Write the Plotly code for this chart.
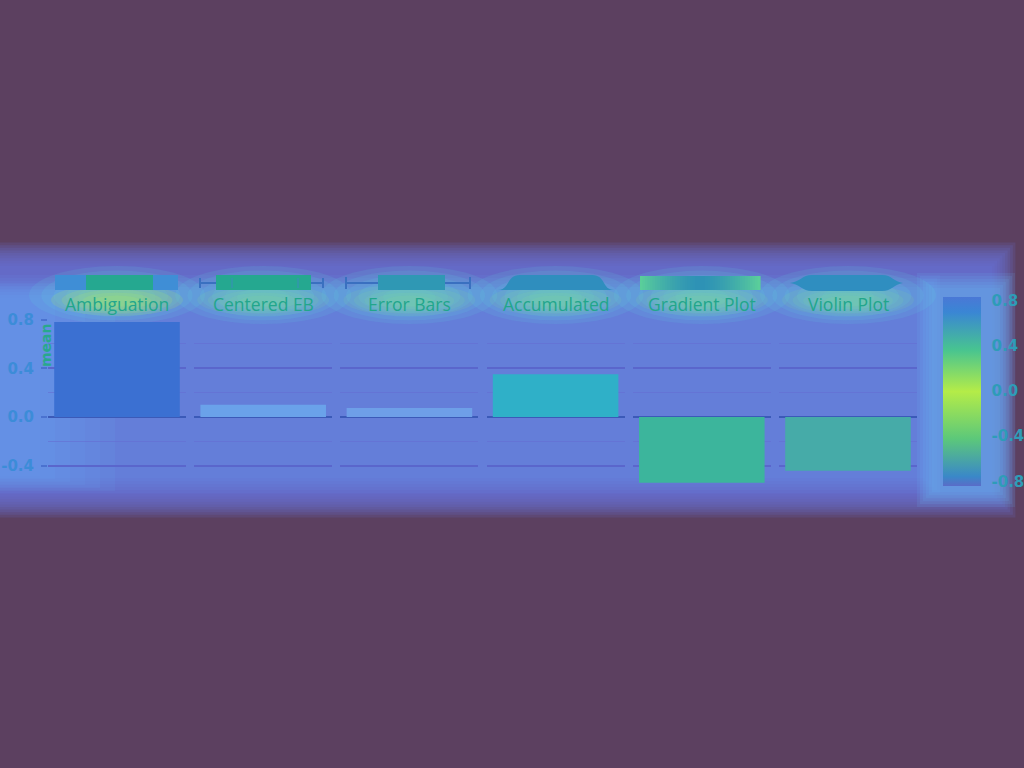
import plotly.graph_objects as go

# ---- data ----
methods = ["Ambiguation", "Centered EB", "Error Bars", "Accumulated", "Gradient Plot", "Violin Plot"]
means = [0.78, 0.10, 0.075, 0.35, -0.54, -0.44]
bar_colors = ["#3b70d2", "#6aa2ea", "#6e9fe8", "#2fb0c8", "#3cb59c", "#46aba8"]
y_ticks = [0.8, 0.4, 0.0, -0.4]
cbar_ticks = [0.8, 0.4, 0.0, -0.4, -0.8]
cbar_min, cbar_max = -0.84, 0.83

W, H = 1024, 768
def px(x):
    return x / W
def py(y):
    return 1 - y / H

fig = go.Figure()

# ---- background glow (decorative) ----
bg_shapes = []
n_layers = 10
for j in range(n_layers):
    d = (n_layers - 1 - j) * 2.6
    bg_shapes.append(dict(type="rect", xref="paper", yref="paper", x0=px(-20), x1=px(992 + d),
                          y0=py(494 + d), y1=py(266 - d),
                          fillcolor="rgba(108,120,226,0.16)", line_width=0, layer="below"))
# light-blue halo around chart content
for j in range(6):
    d = (5 - j) * 3
    bg_shapes.append(dict(type="rect", xref="paper", yref="paper", x0=px(-20), x1=px(40 + 5 * d),
                          y0=py(476 + d), y1=py(298 - d), fillcolor="rgba(100,170,250,0.10)",
                          line_width=0, layer="below"))
    bg_shapes.append(dict(type="rect", xref="paper", yref="paper", x0=px(-20), x1=px(925 + d),
                          y0=py(478 + d), y1=py(290 - d), fillcolor="rgba(112,165,248,0.07)",
                          line_width=0, layer="below"))
    bg_shapes.append(dict(type="rect", xref="paper", yref="paper", x0=px(932 - d), x1=px(1000 + d),
                          y0=py(492 + d), y1=py(288 - d), fillcolor="rgba(110,190,250,0.12)",
                          line_width=0, layer="below"))

left0, pitch, pw = 48, 146.2, 138
top_px, bot_px = 319.5, 486.5
for i, name in enumerate(methods):
    cx = left0 + pitch * i + pw / 2
    # soft title halos
    for j in range(6):
        s = 1 - j * 0.14
        bg_shapes.append(dict(type="circle", xref="paper", yref="paper",
                              x0=px(cx - 88 * s), x1=px(cx + 88 * s),
                              y0=py(298 + 26 * s), y1=py(298 - 32 * s),
                              fillcolor="rgba(95,215,225,0.13)", line_width=0, layer="below"))
    for j in range(5):
        s = 1 - j * 0.16
        bg_shapes.append(dict(type="circle", xref="paper", yref="paper",
                              x0=px(cx - 66 * s), x1=px(cx + 66 * s),
                              y0=py(302 + 14 * s), y1=py(302 - 18 * s),
                              fillcolor="rgba(175,238,95,0.16)" if i == 0 else "rgba(140,232,135,0.11)",
                              line_width=0, layer="below"))

# ---- bars ----
layout_axes = {}
for i, (name, val, col) in enumerate(zip(methods, means, bar_colors)):
    k = "" if i == 0 else str(i + 1)
    fig.add_trace(go.Bar(x=[name], y=[val], marker=dict(color=col, line_width=0),
                         xaxis="x" + k, yaxis="y" + k, showlegend=False, width=0.91))
    x0 = px(left0 + pitch * i)
    x1 = px(left0 + pitch * i + pw)
    layout_axes["xaxis" + k] = dict(domain=[x0, x1], anchor="y" + k, showticklabels=False,
                                    showgrid=False, zeroline=False, showline=False, ticks="",
                                    automargin=False)
    layout_axes["yaxis" + k] = dict(
        domain=[py(bot_px), py(top_px)], anchor="x" + k, range=[-0.57, 0.8], automargin=False,
        tickvals=y_ticks, ticktext=[f"{v:.1f}" for v in y_ticks],
        showticklabels=(i == 0), ticks="outside" if i == 0 else "", ticklen=6, tickwidth=2,
        tickcolor="#4a72d0", ticklabelstandoff=4,
        tickfont=dict(family="DejaVu Sans", size=15, color="#3c8cd8", weight="bold"),
        showgrid=True, gridcolor="#5a66cc", gridwidth=2,
        minor=dict(tickvals=[0.6, 0.2, -0.2], showgrid=True, gridcolor="rgba(100,110,210,0.6)", gridwidth=1),
        zeroline=True, zerolinecolor="#3b5ab8", zerolinewidth=2, showline=False)

# ---- colorbar ----
cb_x0, cb_x1, cb_top, cb_bot = 943, 981, 297, 486
cscale = [[0.0, "#5a6cc8"], [0.05, "#3a88c8"], [0.25, "#5cc87a"], [0.5, "#b4ec48"],
          [0.72, "#48c490"], [0.92, "#3a86d4"], [1.0, "#4a78d6"]]
fig.add_trace(go.Scatter(x=[methods[0]], y=[None], mode="markers", xaxis="x", yaxis="y",
                         showlegend=False, hoverinfo="skip",
                         marker=dict(color=[0], colorscale=cscale, cmin=cbar_min, cmax=cbar_max,
                                     showscale=True,
                                     colorbar=dict(x=px(cb_x0), xanchor="left", xref="paper",
                                                   y=py(cb_bot), yanchor="bottom", yref="paper",
                                                   xpad=0, ypad=0,
                                                   len=(cb_bot - cb_top) / H, lenmode="fraction",
                                                   thickness=cb_x1 - cb_x0, thicknessmode="pixels",
                                                   outlinewidth=0, ticks="outside", ticklen=8,
                                                   tickcolor="rgba(0,0,0,0)",
                                                   tickvals=cbar_ticks,
                                                   ticktext=[f"{v:.1f}" for v in cbar_ticks],
                                                   tickfont=dict(family="DejaVu Sans", size=15,
                                                                 color="#2e9cb8", weight="bold")))))

# ---- panel titles and glyphs ----
annotations = []
shapes = []
ic_top, ic_bot, ic_mid = 275, 290, 283
inner = "#25a890"
for i, name in enumerate(methods):
    cx = left0 + pitch * i + pw / 2
    annotations.append(dict(text=name, x=px(cx), y=py(304), xref="paper", yref="paper",
                            showarrow=False, xanchor="center", yanchor="middle",
                            font=dict(family="Open Sans", size=17.5, color="#22a68c")))

def rect(x0, x1, y0, y1, color):
    return dict(type="rect", xref="paper", yref="paper", x0=px(x0), x1=px(x1), y0=py(y1), y1=py(y0),
                fillcolor=color, line_width=0)

def line(x0, y0, x1, y1, color, w=2):
    return dict(type="line", xref="paper", yref="paper", x0=px(x0), x1=px(x1), y0=py(y0), y1=py(y1),
                line=dict(color=color, width=w))

# Ambiguation glyph
shapes += [rect(55, 178, ic_top, ic_bot, "#3f8ed6"), rect(86, 153, ic_top, ic_bot, inner)]
# Centered EB glyph
shapes += [line(200, ic_mid, 323, ic_mid, "#3a70c0"), line(200, 278, 200, 288, "#3a70c0"),
           line(323, 278, 323, 288, "#3a70c0"), rect(216, 311, ic_top, ic_bot, inner),
           line(232, 278, 232, 288, "#3a8cbc", 1), line(298, 278, 298, 288, "#3a8cbc", 1)]
# Error Bars glyph
shapes += [line(346, ic_mid, 470, ic_mid, "#3a70c0"), line(346, 277, 346, 289, "#3a70c0"),
           line(470, 277, 470, 289, "#3a70c0"), rect(378, 445, ic_top, ic_bot, "#2f98b4")]
# Accumulated glyph
path_acc = (f"M {px(498)} {py(290)} C {px(510)} {py(290)} {px(506)} {py(275)} {px(520)} {py(275)} "
            f"L {px(592)} {py(275)} C {px(606)} {py(275)} {px(602)} {py(290)} {px(614)} {py(290)} Z")
shapes.append(dict(type="path", xref="paper", yref="paper", path=path_acc, fillcolor="#2f8ebe", line_width=0))
# Gradient glyph: smooth blend from green at the ends to blue in the middle
g_end, g_mid = (92, 208, 154), (46, 146, 182)
n_g = 48
gw = (760 - 640) / n_g
for j in range(n_g):
    t = abs((j + 0.5) / n_g - 0.5) * 2
    t = t ** 1.5
    c = tuple(int(g_mid[q] + (g_end[q] - g_mid[q]) * t) for q in range(3))
    shapes.append(rect(640 + j * gw, 640 + (j + 1) * gw + 0.6, 276, 290, "rgb(%d,%d,%d)" % c))
# Violin glyph
path_vio = (f"M {px(790)} {py(283)} C {px(800)} {py(282)} {px(802)} {py(275)} {px(812)} {py(275)} "
            f"L {px(882)} {py(275)} C {px(892)} {py(275)} {px(894)} {py(282)} {px(903)} {py(283)} "
            f"C {px(894)} {py(284)} {px(892)} {py(291)} {px(882)} {py(291)} "
            f"L {px(812)} {py(291)} C {px(802)} {py(291)} {px(800)} {py(284)} {px(790)} {py(283)} Z")
shapes.append(dict(type="path", xref="paper", yref="paper", path=path_vio, fillcolor="#2f8ec0", line_width=0))

# y axis title
annotations.append(dict(text="<b>mean</b>", x=px(46), y=py(345), xref="paper", yref="paper",
                        showarrow=False, textangle=-90, xanchor="center", yanchor="middle",
                        font=dict(family="DejaVu Sans", size=14, color="#28a88c")))

fig.update_layout(width=W, height=H, margin=dict(l=0, r=0, t=0, b=0, autoexpand=False),
                  paper_bgcolor="#5c4060", plot_bgcolor="rgba(0,0,0,0)",
                  bargap=0.09, shapes=bg_shapes + shapes, annotations=annotations,
                  **layout_axes)

fig.write_html("out.html")
